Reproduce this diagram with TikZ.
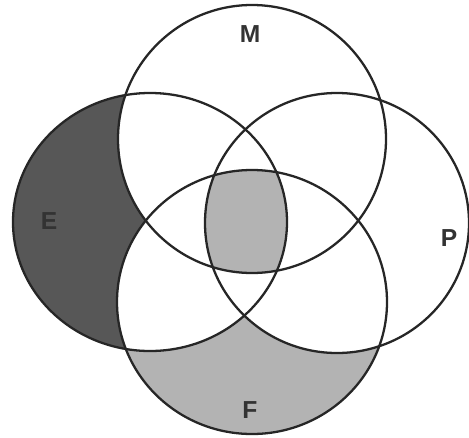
\documentclass[tikz,border=0pt]{standalone}
\usepackage{fontspec}
\setmainfont{Liberation Sans}
\usetikzlibrary{positioning}

\definecolor{darkshade}{HTML}{575757}
\definecolor{lightshade}{HTML}{B3B3B3}

% the four sets
\newcommand{\setM}{(252,298) ellipse [x radius=134, y radius=134]}
\newcommand{\setE}{(150,215) ellipse [x radius=137, y radius=129]}
\newcommand{\setP}{(337,214) ellipse [x radius=132, y radius=130]}
\newcommand{\setF}{(252,135) ellipse [x radius=135, y radius=132]}

\begin{document}
\begin{tikzpicture}[
    x=0.02cm, y=0.02cm,
    outline/.style={draw=black!85, line width=1.3pt},
    lbl/.style={font=\fontsize{14}{16}\selectfont\bfseries, text=black!80, inner sep=0pt}
  ]
  \useasboundingbox (0,0) rectangle (469,437);

  % E only
  \begin{scope}
    \clip \setE;
    \fill[darkshade] \setE;
    \fill[white] \setM \setP \setF;
  \end{scope}

  % F only
  \begin{scope}
    \clip \setF;
    \fill[lightshade] \setF;
    \fill[white] \setE \setM \setP;
  \end{scope}

  % all four
  \begin{scope}
    \clip \setM;
    \clip \setE;
    \clip \setP;
    \fill[lightshade] \setF;
  \end{scope}

  % outlines
  \draw[outline] \setM;
  \draw[outline] \setE;
  \draw[outline] \setP;
  \draw[outline] \setF;

  % labels
  \node[lbl] (labM) at (250,403) {M};
  \node[lbl] (labE) at (49,216) {E};
  \node[lbl] (labP) at (449,199) {P};
  \node[lbl] (labF) at (250,27) {F};

\end{tikzpicture}
\end{document}
